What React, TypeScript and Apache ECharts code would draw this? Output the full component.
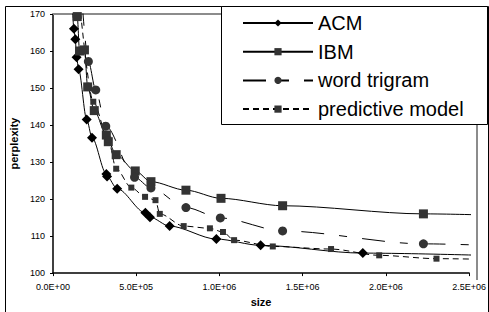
import React, { useEffect, useRef } from "react";
import * as echarts from "echarts";

const seriesNames = ["ACM", "IBM", "word trigram", "predictive model"];

const acmData: [number, number][] = [
  [115000, 173], [125700, 166.0], [134000, 163.2], [141700, 158.3], [153500, 155.1],
  [202500, 141.5], [234400, 136.6], [320500, 126.8], [324700, 126.1], [385500, 122.8],
  [554900, 116.3], [582600, 115.1], [700700, 112.7], [981700, 109.2], [1247300, 107.5],
  [1861300, 105.4], [2900000, 104.4],
];

const ibmData: [number, number][] = [
  [138000, 173], [145800, 169.3], [159400, 160.0], [188900, 160.3], [208400, 150.3],
  [247900, 143.9], [320500, 137.3], [332300, 135.5], [379600, 132.0], [494100, 127.6],
  [588500, 124.7], [798700, 122.4], [1009400, 120.2], [1379500, 118.2], [2225500, 116.0],
  [2900000, 115.3],
];

const trigramData: [number, number][] = [
  [175000, 173], [212500, 157.2], [256800, 149.5], [317000, 139.7], [490000, 125.9],
  [588500, 123.0], [798700, 117.7], [1005300, 114.9], [1379500, 111.4], [2225500, 107.9],
  [2900000, 107.0],
];

const predictiveData: [number, number][] = [
  [160000, 173], [242000, 146.3], [332300, 136.1], [379600, 128.2], [470500, 123.1],
  [553100, 120.6], [615700, 119.7], [641700, 116.0], [785100, 112.7], [942700, 112.1],
  [1021200, 111.1], [1087900, 108.9], [1320500, 107.2], [1670500, 106.5], [1959800, 104.8],
  [2304000, 103.9], [2900000, 103.4],
];

const xMin = 0;
const xMax = 2500000;
const xInterval = 500000;
const yMin = 100;
const yMax = 170;
const yInterval = 10;

function fmtExp(v: number): string {
  if (v === 0) return "0.0E+00";
  const e = Math.floor(Math.log10(Math.abs(v)));
  const m = v / Math.pow(10, e);
  const es = (e < 10 ? "0" : "") + e;
  return m.toFixed(1) + "E+" + es;
}

const FONT = "'Liberation Sans', Arial, sans-serif";

export default function App() {
  const ref = useRef<HTMLDivElement>(null);
  useEffect(() => {
    if (!ref.current) return;
    const chart = echarts.init(ref.current, undefined, { renderer: "svg" });
    const common = {
      type: "line",
      smooth: 0.3,
      smoothMonotone: "x",
      clip: true,
      showAllSymbol: true,
    };
    chart.setOption({
      animation: false,
      textStyle: { fontFamily: FONT },
      grid: { left: 53, right: 12, top: 14, bottom: 32, show: false },
      xAxis: {
        type: "value",
        min: xMin,
        max: xMax,
        interval: xInterval,
        name: "size",
        nameLocation: "middle",
        nameGap: 17,
        nameTextStyle: { fontSize: 11, fontWeight: "bold", color: "#000", fontFamily: FONT },
        axisLine: { show: true, lineStyle: { color: "#000", width: 1.5 } },
        axisTick: { show: true, length: 3, lineStyle: { color: "#000" } },
        axisLabel: { formatter: fmtExp, fontSize: 9, color: "#000", margin: 9, fontFamily: FONT },
        splitLine: { show: false },
      },
      yAxis: {
        type: "value",
        min: yMin,
        max: yMax,
        interval: yInterval,
        name: "perplexity",
        nameLocation: "middle",
        nameGap: 34,
        nameTextStyle: { fontSize: 11, fontWeight: "bold", color: "#000", fontFamily: FONT },
        axisLine: { show: true, lineStyle: { color: "#000", width: 1.5 } },
        axisTick: { show: true, length: 3, lineStyle: { color: "#000" } },
        axisLabel: { fontSize: 9, color: "#000", margin: 8, fontFamily: FONT },
        splitLine: { show: false },
      },
      legend: {
        orient: "vertical",
        left: 242,
        top: 13,
        itemWidth: 70,
        itemHeight: 9,
        itemGap: 8.7,
        padding: 0,
        textStyle: { fontSize: 20, color: "#000", fontFamily: FONT },
        data: seriesNames,
        selectedMode: false,
        z: 10,
      },
      graphic: [
        {
          type: "rect",
          shape: { x: 5.5, y: 6.5, width: 483, height: 330 },
          style: { fill: "none", stroke: "#000", lineWidth: 1 },
          z: 1,
          silent: true,
        },
        {
          type: "line",
          shape: { x1: 53, y1: 14, x2: 477, y2: 14 },
          style: { stroke: "#8c8c8c", lineWidth: 2 },
          z: 1,
          silent: true,
        },
        {
          type: "line",
          shape: { x1: 477, y1: 14, x2: 477, y2: 280 },
          style: { stroke: "#8c8c8c", lineWidth: 2 },
          z: 1,
          silent: true,
        },
        {
          type: "rect",
          shape: { x: 221.5, y: 6.5, width: 266, height: 118 },
          style: { fill: "#fff", stroke: "#000", lineWidth: 1 },
          z: 5,
          silent: true,
        },
      ],
      series: [
        {
          ...common,
          name: seriesNames[0],
          data: acmData,
          symbol: "diamond",
          symbolSize: 10,
          itemStyle: { color: "#000" },
          lineStyle: { color: "#000", width: 1, type: "solid" },
        },
        {
          ...common,
          name: seriesNames[1],
          data: ibmData,
          symbol: "rect",
          symbolSize: 9,
          itemStyle: { color: "#333" },
          lineStyle: { color: "#000", width: 1, type: "solid" },
        },
        {
          ...common,
          name: seriesNames[2],
          data: trigramData,
          symbol: "circle",
          symbolSize: 9,
          itemStyle: { color: "#333" },
          lineStyle: { color: "#000", width: 1, type: [23, 15, 8, 15] },
        },
        {
          ...common,
          name: seriesNames[3],
          data: predictiveData,
          symbol: "rect",
          symbolSize: 6,
          itemStyle: { color: "#333" },
          lineStyle: { color: "#000", width: 1, type: [6, 4] },
        },
      ],
    });
    return () => chart.dispose();
  }, []);
  return <div ref={ref} style={{ width: 489, height: 312, position: "absolute", left: 0, top: 0 }} />;
}
